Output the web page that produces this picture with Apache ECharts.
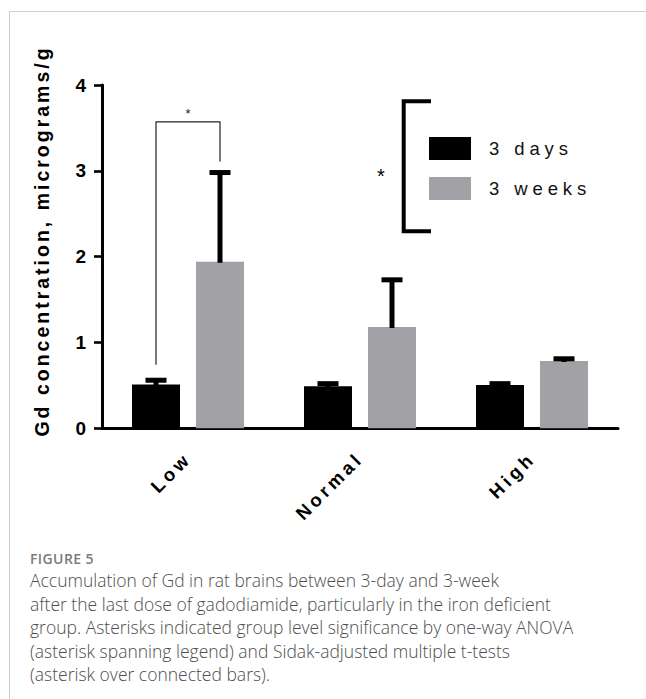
<!DOCTYPE html>
<html>
<head>
<meta charset="utf-8">
<script src="https://cdn.jsdelivr.net/npm/echarts@6/dist/echarts.min.js"></script>
<style>
  html, body { margin:0; padding:0; background:#fff; }
  #frame { position:absolute; left:9px; top:11px; right:-2px; bottom:-2px; border-top:1px solid #cfcfcf; border-left:1px solid #cfcfcf; z-index:10; pointer-events:none; background:transparent; }
  #chart { position:absolute; left:0; top:0; width:646px; height:699px; }
  #cap { position:absolute; left:30px; top:549px; width:612px; font-family:'Open Sans', sans-serif; white-space:nowrap; z-index:5; }
  #cap .fig { font-size:14px; font-weight:600; color:#7a7a7a; letter-spacing:0.4px; line-height:20px; }
  #cap .txt { font-size:17.5px; font-weight:300; color:#4d4d4d; line-height:23.5px; }
</style>
</head>
<body>
<div id="chart"></div>
<div id="frame"></div>
<div id="cap">
  <div class="fig">FIGURE 5</div>
  <div class="txt">Accumulation of Gd in rat brains between 3-day and 3-week<br>after the last dose of gadodiamide, particularly in the iron deficient<br>group. Asterisks indicated group level significance by one-way ANOVA<br>(asterisk spanning legend) and Sidak-adjusted multiple t-tests<br>(asterisk over connected bars).</div>
</div>
<script>
// ---- data ----
const categories = ['Low', 'Normal', 'High'];
const seriesNames = ['3 days', '3 weeks'];
const days3Mean = [0.51, 0.49, 0.505];
const days3Upper = [0.56, 0.52, 0.52];
const weeks3Mean = [1.94, 1.18, 0.785];
const weeks3Upper = [2.98, 1.73, 0.81];
const yTicks = [0, 1, 2, 3, 4];
// [category index, left leg end, right leg end, bracket top]
const sigBracket = [[0, 0.74, 3.11, 3.57]];
const yTitle = 'Gd concentration, micrograms/g';

// ---- style ----
const FONT = 'Liberation Sans, Arial, sans-serif';
const BAR_W = 48, BAR_GAP = 16;
const OFF = (BAR_W + BAR_GAP) / 2;
const GRAY = '#a2a1a6';

const chart = echarts.init(document.getElementById('chart'), null, { renderer: 'svg' });

function errRender(sign) {
  return function (params, api) {
    const i = api.value(0);
    const top = api.coord([i, api.value(2)]);
    const base = api.coord([i, api.value(1)]);
    const x = top[0] + sign * OFF;
    return {
      type: 'group',
      children: [
        { type: 'rect', shape: { x: x - 2.5, y: top[1], width: 5, height: base[1] - top[1] + 1 }, style: { fill: '#000' } },
        { type: 'rect', shape: { x: x - 10.5, y: top[1] - 2.5, width: 21, height: 5 }, style: { fill: '#000' } }
      ]
    };
  };
}

const option = {
  animation: false,
  backgroundColor: 'transparent',
  grid: { left: 102, right: 28, top: 85, bottom: 270.7, containLabel: false },
  legend: {
    data: seriesNames,
    orient: 'vertical',
    left: 429, top: 137,
    itemWidth: 42, itemHeight: 23, itemGap: 17,
    icon: 'rect',
    padding: 0,
    selectedMode: false,
    textStyle: { fontFamily: FONT, fontSize: 18.5, color: '#111', padding: [5, 0, 0, 13] }
  },
  xAxis: {
    type: 'category',
    data: categories,
    axisLine: { lineStyle: { color: '#000', width: 3 } },
    axisTick: { alignWithLabel: true, length: 10, lineStyle: { color: '#000', width: 3 } },
    axisLabel: { rotate: 45, margin: 27, color: '#000', fontFamily: FONT, fontWeight: 'bold', fontSize: 18.5 },
    splitLine: { show: false }
  },
  yAxis: {
    type: 'value',
    min: yTicks[0], max: yTicks[yTicks.length - 1], interval: 1,
    axisLine: { show: true, lineStyle: { color: '#000', width: 3 } },
    axisTick: { show: true, length: 8, lineStyle: { color: '#000', width: 2.6 } },
    axisLabel: { margin: 16, color: '#000', fontFamily: FONT, fontWeight: 'bold', fontSize: 19 },
    splitLine: { show: false }
  },
  graphic: [
    {
      type: 'text', x: 42, y: 241, rotation: Math.PI / 2,
      style: { text: yTitle, font: 'bold 19.5px ' + FONT, fill: '#000', align: 'center', verticalAlign: 'middle' }
    },
    {
      type: 'polyline',
      shape: { points: [[431, 101.3], [403.7, 101.3], [403.7, 231.3], [431, 231.3]] },
      style: { stroke: '#000', lineWidth: 4, fill: 'none', lineJoin: 'miter' }
    },
    {
      type: 'text', x: 381, y: 176,
      style: { text: '*', font: '20px ' + FONT, fill: '#000', align: 'center', verticalAlign: 'middle' }
    }
  ],
  series: [
    { name: seriesNames[0], type: 'bar', data: days3Mean, barWidth: BAR_W, barGap: (BAR_GAP / BAR_W * 100) + '%', itemStyle: { color: '#000' }, silent: true },
    { name: seriesNames[1], type: 'bar', data: weeks3Mean, barWidth: BAR_W, itemStyle: { color: GRAY }, silent: true },
    {
      type: 'custom', z: 5, silent: true,
      data: categories.map((c, i) => [i, days3Mean[i], days3Upper[i]]),
      renderItem: errRender(-1)
    },
    {
      type: 'custom', z: 5, silent: true,
      data: categories.map((c, i) => [i, weeks3Mean[i], weeks3Upper[i]]),
      renderItem: errRender(1)
    },
    {
      type: 'custom', z: 6, silent: true,
      data: sigBracket,
      renderItem: function (params, api) {
        const i = api.value(0);
        const t = api.coord([i, api.value(3)]);
        const ly = api.coord([i, api.value(1)])[1];
        const ry = api.coord([i, api.value(2)])[1];
        const lx = t[0] - OFF, rx = t[0] + OFF;
        return {
          type: 'group',
          children: [
            { type: 'polyline', shape: { points: [[lx, ly], [lx, t[1]], [rx, t[1]], [rx, ry]] }, style: { stroke: '#222', lineWidth: 1.2, fill: 'none' } },
            { type: 'text', style: { text: '*', x: t[0], y: t[1] - 8, font: '13px ' + FONT, fill: '#222', align: 'center', verticalAlign: 'middle' } }
          ]
        };
      }
    }
  ]
};
chart.setOption(option);

function applySpacing() {
  const map = {};
  map[yTitle] = 3.0;
  categories.forEach(c => map[c] = 3.8);
  seriesNames.forEach(s => map[s] = 4.9);
  document.querySelectorAll('#chart text').forEach(t => {
    const s = map[t.textContent];
    if (s != null) t.setAttribute('letter-spacing', s);
  });
}
chart.on('finished', applySpacing);
applySpacing();
setTimeout(applySpacing, 50);
</script>
</body>
</html>
